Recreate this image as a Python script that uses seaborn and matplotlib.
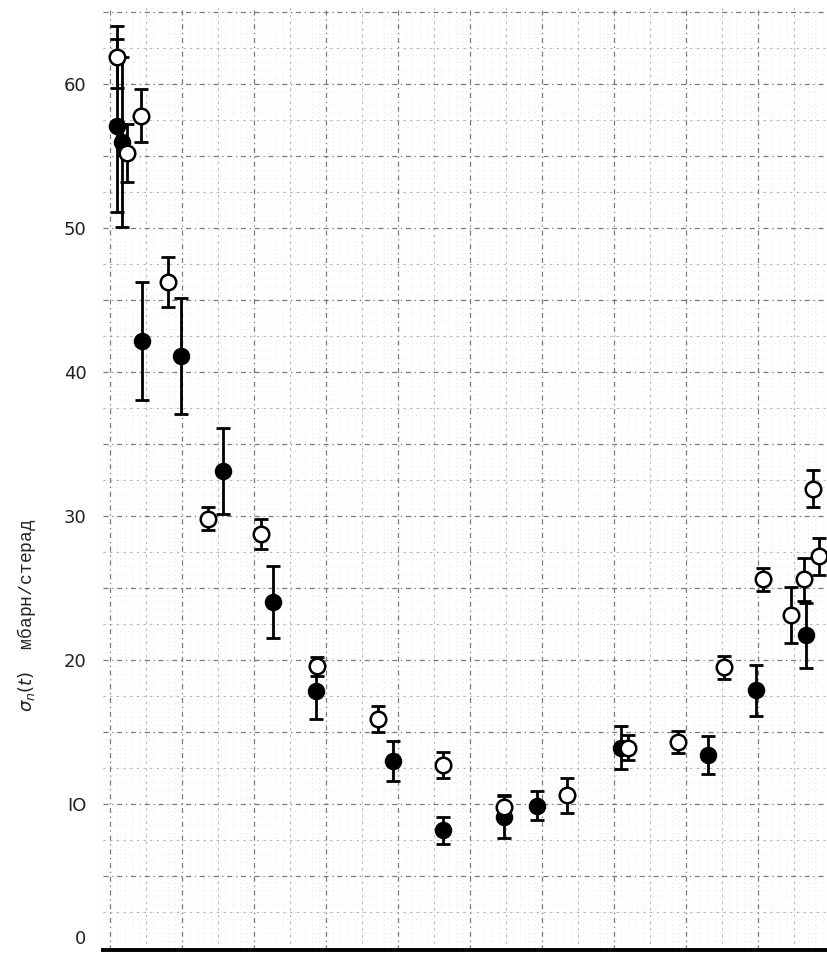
import numpy as np
import pandas as pd
import matplotlib
matplotlib.use("Agg")
import matplotlib.pyplot as plt
from matplotlib.transforms import ScaledTranslation
import seaborn as sns

# Open-circle series: position, cross section (mb/sr), error
open_x = [0.10, 0.24, 0.43, 0.81, 1.36, 2.10, 2.875, 3.72, 4.63, 5.47, 6.35,
          7.19, 7.89, 8.53, 9.07, 9.46, 9.64, 9.76, 9.85]
open_y = [61.9, 55.2, 57.8, 46.25, 29.8, 28.75, 19.55, 15.9, 12.7, 9.8, 10.6,
          13.9, 14.3, 19.5, 25.6, 23.1, 25.6, 31.9, 27.2]
open_err = [2.15, 2.0, 1.85, 1.75, 0.8, 1.05, 0.65, 0.9, 0.87, 0.8, 1.2,
            0.85, 0.75, 0.8, 0.8, 1.95, 1.5, 1.3, 1.3]

# Filled-circle series
filled_x = [0.10, 0.17, 0.44, 0.99, 1.57, 2.26, 2.86, 3.93, 4.63, 5.47, 5.93,
            7.10, 8.31, 8.97, 9.67]
filled_y = [57.1, 56.0, 42.15, 41.1, 33.1, 24.0, 17.85, 12.97, 8.16, 9.1, 9.86,
            13.9, 13.4, 17.9, 21.7]
filled_err = [6.0, 5.9, 4.1, 4.05, 3.0, 2.5, 1.95, 1.4, 0.95, 1.45, 1.0,
              1.5, 1.3, 1.77, 2.26]

y_ticks = [0, 10, 20, 30, 40, 50, 60]
y_tick_labels = ["0", "IO", "20", "30", "40", "50", "60"]

df = pd.concat([
    pd.DataFrame({"x": open_x, "y": open_y, "err": open_err, "set": "open"}),
    pd.DataFrame({"x": filled_x, "y": filled_y, "err": filled_err, "set": "filled"}),
], ignore_index=True)

sns.set_theme(style="white")
plt.rcParams["font.family"] = ["DejaVu Sans"]

fig = plt.figure(figsize=(8.27, 9.56), dpi=100)
ax = fig.add_axes([103 / 827, 6 / 956, 1 - 103 / 827, 943 / 956])

x_lo, x_hi = -0.1, 9.96
y_lo, y_hi = -0.15, 65.35
ax.set_xlim(x_lo, x_hi)
ax.set_ylim(y_lo, y_hi)

# graph-paper background: fine, half and main rulings
for v in np.arange(0, x_hi, 0.1):
    ax.axvline(v, color="#e2e2e2", lw=0.6, ls=(0, (1, 4)), zorder=0)
for v in np.arange(0, y_hi, 0.5):
    ax.axhline(v, color="#e2e2e2", lw=0.6, ls=(0, (1, 4)), zorder=0)
for v in np.arange(0.5, x_hi, 1.0):
    ax.axvline(v, color="#b4b4b4", lw=0.8, ls=(0, (2, 4)), zorder=0)
for v in np.arange(2.5, y_hi, 5.0):
    ax.axhline(v, color="#b4b4b4", lw=0.8, ls=(0, (2, 4)), zorder=0)
for v in np.arange(0, x_hi, 1.0):
    ax.axvline(v, color="#7a7a7a", lw=0.9, ls=(0, (4, 3, 1, 3)), zorder=0)
for v in np.arange(5, y_hi, 5.0):
    ax.axhline(v, color="#7a7a7a", lw=0.9, ls=(0, (4, 3, 1, 3)), zorder=0)

# error bars
for name, sub in df.groupby("set"):
    ax.errorbar(sub["x"], sub["y"], yerr=sub["err"], fmt="none",
                ecolor="black", elinewidth=2.0, capsize=5, capthick=2.0, zorder=2)

# points
sns.scatterplot(data=df[df["set"] == "filled"], x="x", y="y", ax=ax,
                color="black", edgecolor="black", s=130, linewidth=1.2,
                marker="o", legend=False, zorder=3)
sns.scatterplot(data=df[df["set"] == "open"], x="x", y="y", ax=ax,
                color="white", edgecolor="black", s=125, linewidth=1.8,
                marker="o", legend=False, zorder=4)

ax.set_xticks([])
ax.set_yticks(y_ticks)
ax.set_yticklabels(y_tick_labels, fontsize=13, color="#222222")
ax.tick_params(axis="y", length=0, pad=12)
# lift the bottom label clear of the baseline
zero_label = ax.get_yticklabels()[0]
zero_label.set_transform(zero_label.get_transform()
                         + ScaledTranslation(0, 8 / 72, fig.dpi_scale_trans))

ax.set_xlabel("")
ax.set_ylabel(r"$\sigma_n(t)$  мбарн/стерад", fontsize=13,
              family=["Liberation Mono", "DejaVu Sans"], color="#222222")
ax.yaxis.set_label_coords(-0.09, 0.355)

for side in ["top", "right", "left"]:
    ax.spines[side].set_visible(False)
ax.spines["bottom"].set_color("black")
ax.spines["bottom"].set_linewidth(2.8)

fig.savefig("out.png", dpi=100, facecolor="white")
